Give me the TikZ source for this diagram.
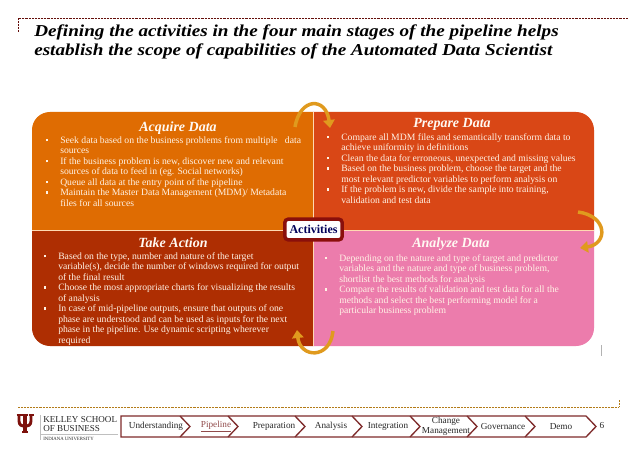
\documentclass[tikz,border=0pt]{standalone}
\usepackage{fontspec}
\setmainfont{Liberation Serif}
\newfontfamily\wideserif[FakeStretch=1.15]{Liberation Serif}
\usetikzlibrary{arrows.meta}
\definecolor{acq}{HTML}{DF6C02}
\definecolor{pre}{HTML}{D94716}
\definecolor{tak}{HTML}{AE2E02}
\definecolor{ana}{HTML}{EC7CAC}
\definecolor{rib}{HTML}{E09A1E}
\definecolor{crumb}{HTML}{7E2B2B}
\definecolor{iu}{HTML}{7D110C}
\newcommand{\itemdot}{\llap{\raisebox{1.3pt}{\rule{2pt}{2pt}}\hspace{9pt}}}
\tikzset{
  body/.style={anchor=north west,inner sep=0pt,align=left,text=white!90!orange,font=\fontsize{7.25}{7.9}\selectfont},
  head/.style={inner sep=0pt,text=white!95!orange,font=\fontsize{10.5}{12}\selectfont\bfseries\itshape},
  ribbon/.style={draw=rib,line width=2.6pt,-{Triangle[width=8.5pt,length=6pt]}},
  crumbline/.style={draw=crumb,line width=1pt},
  crumbtext/.style={inner sep=0pt,align=center,font=\fontsize{6.9}{7.6}\selectfont,text=black!85},
  titletext/.style={anchor=west,inner sep=0pt,font=\wideserif\fontsize{12.5}{14}\selectfont\bfseries\itshape},
  brand/.style={anchor=west,inner sep=0pt,font=\fontsize{6.8}{8}\selectfont,text=black!85},
  finerule/.style={line width=0.6pt,dash pattern=on 0.6pt off 0.5pt}
}
\begin{document}
\begin{tikzpicture}[x=0.75pt,y=-0.75pt]
\useasboundingbox (0,0) rectangle (638,452);
\fill[white] (0,0) rectangle (638,452);
% frame rules
\draw[finerule,draw=iu!80!black] (18,32) -- (18,18) -- (628,18);
\draw[finerule,draw=rib!80!black] (18,407) -- (619,407) -- (619,400);
\draw[black!30,line width=0.5pt] (601,345) -- (601,356);
% title
\node[titletext] (t1) at (34,32) {Defining the activities in the four main stages of the pipeline helps};
\node[titletext] (t2) at (34,51) {establish the scope of capabilities of the Automated Data Scientist};
% panels
\fill[acq] (32,230) -- (32,130) .. controls (32,120) and (40,112) .. (50,112) -- (313,112) -- (313,230) -- cycle;
\fill[pre] (313,112) -- (576,112) .. controls (586,112) and (594,120) .. (594,130) -- (594,230) -- (313,230) -- cycle;
\fill[tak] (32,230) -- (313,230) -- (313,346) -- (50,346) .. controls (40,346) and (32,338) .. (32,328) -- cycle;
\fill[ana] (313,230) -- (594,230) -- (594,328) .. controls (594,338) and (586,346) .. (576,346) -- (313,346) -- cycle;
\draw[white!70!orange,line width=0.6pt] (313,112) -- (313,346) (32,230) -- (594,230);
% panel text
\node[head] (h1) at (178,128) {Acquire Data};
\node[body] (b1) at (60,136) {\itemdot Seek data based on the business problems from multiple\ \ \ data\\sources\\\itemdot If the business problem is new, discover new and relevant\\sources of data to feed in (eg. Social networks)\\\itemdot Queue all data at the entry point of the pipeline\\\itemdot Maintain the Master Data Management (MDM)/ Metadata\\files for all sources};
\node[head] (h2) at (452,124) {Prepare Data};
\node[body] (b2) at (341,133) {\itemdot Compare all MDM files and semantically transform data to\\achieve uniformity in definitions\\\itemdot Clean the data for erroneous, unexpected and missing values\\\itemdot Based on the business problem, choose the target and the\\most relevant predictor variables to perform analysis on\\\itemdot If the problem is new, divide the sample into training,\\validation and test data};
\node[head] (h3) at (173,243) {Take Action};
\node[body] (b3) at (58,252) {\itemdot Based on the type, number and nature of the target\\variable(s), decide the number of windows required for output\\of the final result\\\itemdot Choose the most appropriate charts for visualizing the results\\of analysis\\\itemdot In case of mid-pipeline outputs, ensure that outputs of one\\phase are understood and can be used as inputs for the next\\phase in the pipeline. Use dynamic scripting wherever\\required};
\node[head] (h4) at (451,244) {Analyze Data};
\node[body] (b4) at (339,254) {\itemdot Depending on the nature and type of target and predictor\\variables and the nature and type of business problem,\\shortlist the best methods for analysis\\\itemdot Compare the results of validation and test data for all the\\methods and select the best performing model for a\\particular business problem};
% circular arrows
\coordinate (a1) at (295,127); \coordinate (a2) at (330,128);
\coordinate (a3) at (578,212); \coordinate (a4) at (580,248);
\coordinate (a5) at (333,331); \coordinate (a6) at (297,330);
\draw[ribbon] (a1) .. controls (300,97) and (326,97) .. (a2);
\draw[ribbon] (a3) .. controls (608,216) and (608,244) .. (a4);
\draw[ribbon] (a5) .. controls (330,360) and (300,358) .. (a6);
% centre box
\node[draw=iu!90!red,fill=white,line width=2.6pt,rounded corners=2.5pt,minimum width=43pt,inner sep=0pt,minimum height=15.5pt,text=blue!35!black,font=\fontsize{9}{10}\selectfont\bfseries] (act) at (313.5,229.5) {Activities};
% logo
\coordinate (s1) at (25,414); \coordinate (s2) at (25,432);
\draw[iu,line width=2.6pt] (s1) -- (s2);
\draw[iu,line width=2.2pt] (19,415) -- (19,421) .. controls (19,425) and (22,426.5) .. (25,426.5) .. controls (28,426.5) and (31,425) .. (31,421) -- (31,415);
\draw[iu,line width=1.3pt] (16.5,415) -- (21.5,415) (22,415) -- (28,415) (28.5,415) -- (33.5,415) (22,431.7) -- (28,431.7);
\draw[black!25,line width=0.5pt] (40,415) -- (40,440) (40,434) -- (118,434);
\node[brand] (k1) at (43,419.5) {KELLEY SCHOOL};
\node[brand] (k2) at (43,428.5) {OF BUSINESS};
\node[brand,font=\fontsize{3.6}{4}\selectfont] (k3) at (43,438.5) {INDIANA UNIVERSITY};
% breadcrumb
\draw[crumbline] (121,416) -- (586,416) -- (596,426.5) -- (586,437) -- (121,437) -- cycle;
\foreach \t in {190,238,305,362,420,477,535}{
  \draw[crumbline] (\t-10,416) -- (\t,426.5) -- (\t-10,437);
}
\node[crumbtext] (c1) at (156,426.5) {Understanding};
\node[crumbtext,text=crumb!85!white] (c2) at (216,426.5) {\underline{Pipeline}};
\node[crumbtext] (c3) at (274,426.5) {Preparation};
\node[crumbtext] (c4) at (331,426.5) {Analysis};
\node[crumbtext] (c5) at (388,426.5) {Integration};
\node[crumbtext] (c6) at (446,426) {Change\\Management};
\node[crumbtext] (c7) at (503,426.5) {Governance};
\node[crumbtext] (c8) at (561,426.5) {Demo};
\node[crumbtext] (pg) at (602,425.5) {6};
\end{tikzpicture}
\end{document}
